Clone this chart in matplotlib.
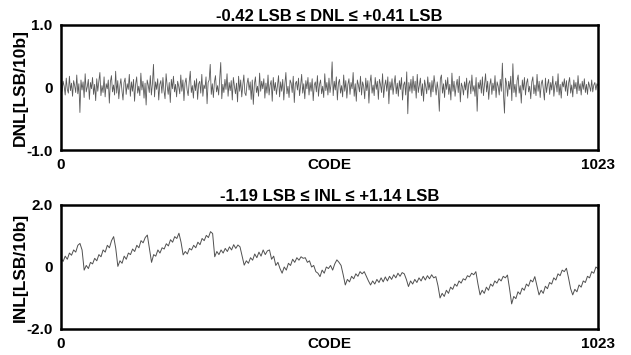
import numpy as np
import matplotlib
matplotlib.use("Agg")
import matplotlib.pyplot as plt

plt.rcParams['font.family'] = ['Liberation Sans', 'DejaVu Sans']
plt.rcParams['font.weight'] = 'bold'

# ---- data ----
dnl_title = "-0.42 LSB \u2264 DNL \u2264 +0.41 LSB"
inl_title = "-1.19 LSB \u2264 INL \u2264 +1.14 LSB"
dnl_ylabel = "DNL[LSB/10b]"
inl_ylabel = "INL[LSB/10b]"
x_label = "CODE"
code_range = [0, 1023]
dnl_yticks = [-1.0, 0.0, 1.0]
dnl_yticklabels = ["-1.0", "0", "1.0"]
inl_yticks = [-2.0, 0.0, 2.0]
inl_yticklabels = ["-2.0", "0", "2.0"]

dnl = [
    0.04, -0.06, 0.10, 0.02, -0.12, 0.15, -0.03, -0.09, 0.18, -0.05, 0.07, -0.14, 0.11, 0.03, -0.08, 0.20,
    -0.10, 0.06, -0.40, 0.12, -0.04, 0.09, -0.16, 0.22, -0.07, 0.01, 0.13, -0.19, 0.08, -0.02, 0.16, -0.11,
    0.05, -0.21, 0.14, -0.06, 0.10, 0.24, -0.13, 0.03, -0.08, 0.17, -0.15, 0.06, -0.02, 0.12, -0.25, 0.09,
    0.19, -0.07, 0.04, -0.12, 0.26, -0.09, 0.11, -0.18, 0.02, 0.14, -0.05, -0.20, 0.08, 0.15, -0.11, 0.06,
    -0.03, 0.21, -0.14, 0.09, -0.06, 0.13, -0.22, 0.05, 0.17, -0.09, 0.02, -0.13, 0.23, -0.04, 0.10, -0.17,
    0.07, -0.28, 0.12, 0.04, -0.08, 0.19, -0.12, 0.06, 0.37, -0.15, 0.09, -0.03, 0.14, -0.20, 0.05, 0.11,
    -0.09, 0.16, -0.05, -0.18, 0.22, 0.03, -0.11, 0.08, -0.24, 0.13, -0.02, 0.18, -0.07, 0.05, -0.15, 0.10,
    0.02, -0.10, 0.20, -0.06, 0.12, -0.21, 0.07, 0.15, -0.04, -0.13, 0.09, 0.26, -0.08, 0.03, -0.17, 0.11,
    -0.05, 0.14, -0.19, 0.06, 0.10, -0.09, 0.21, -0.14, 0.04, -0.02, 0.17, -0.26, 0.08, 0.12, 0.37, -0.11,
    0.06, -0.16, 0.09, 0.19, -0.07, 0.03, -0.12, 0.15, 0.40, -0.18, 0.05, -0.08, 0.13, -0.03, 0.22, -0.14,
    0.08, -0.05, 0.11, -0.20, 0.16, 0.02, -0.10, 0.07, -0.23, 0.18, -0.06, 0.12, -0.15, 0.04, 0.20, -0.09,
    -0.13, 0.06, 0.15, -0.04, 0.09, -0.19, 0.12, -0.27, 0.05, 0.17, -0.08, 0.02, -0.14, 0.23, -0.06, 0.10,
    -0.02, 0.14, -0.17, 0.07, -0.09, 0.20, -0.12, 0.04, 0.11, -0.22, 0.16, -0.05, 0.08, -0.11, 0.03, 0.19,
    -0.15, 0.09, -0.06, 0.13, -0.20, 0.05, 0.24, -0.10, 0.02, -0.16, 0.12, 0.07, -0.08, 0.18, -0.24, 0.06,
    0.10, -0.04, 0.15, -0.13, 0.03, 0.21, -0.09, 0.06, -0.18, 0.11, -0.02, 0.16, -0.12, 0.08, -0.06, 0.14,
    -0.21, 0.04, 0.09, -0.07, 0.19, -0.14, 0.05, 0.12, -0.10, 0.02, -0.16, 0.22, -0.05, 0.08, -0.12, 0.15,
    -0.08, 0.06, 0.41, -0.13, 0.10, -0.04, 0.17, -0.20, 0.07, 0.13, -0.09, 0.03, -0.15, 0.20, -0.06, 0.11,
    -0.17, 0.05, 0.14, -0.11, 0.08, -0.02, 0.24, -0.14, 0.06, -0.22, 0.12, 0.04, -0.07, 0.18, -0.12, 0.09,
    0.02, -0.18, 0.15, -0.05, 0.11, -0.25, 0.07, 0.20, -0.09, 0.04, -0.13, 0.16, -0.03, 0.10, -0.19, 0.13,
    0.05, -0.08, 0.22, -0.16, 0.03, 0.12, -0.06, 0.17, -0.26, 0.09, -0.04, 0.14, -0.11, 0.06, 0.19, -0.10,
    0.07, -0.14, 0.11, -0.03, 0.16, -0.20, 0.04, 0.09, -0.12, 0.25, -0.42, 0.08, -0.06, 0.13, -0.09, 0.18,
    -0.05, 0.10, -0.17, 0.21, -0.08, 0.03, 0.15, -0.13, 0.06, -0.22, 0.12, 0.02, -0.10, 0.17, -0.04, 0.08,
    -0.15, 0.11, -0.07, 0.19, 0.04, -0.12, 0.09, -0.05, -0.38, 0.14, 0.20, -0.09, 0.06, -0.16, 0.12, -0.03,
    0.16, -0.11, 0.05, -0.20, 0.23, -0.06, 0.10, -0.14, 0.03, 0.13, -0.08, 0.18, -0.23, 0.07, 0.01, -0.12,
    0.09, -0.04, 0.15, -0.17, 0.06, 0.11, -0.10, 0.20, -0.06, 0.03, -0.14, 0.16, -0.38, 0.08, -0.02, 0.12,
    -0.09, 0.17, -0.13, 0.05, 0.22, -0.07, 0.10, -0.19, 0.04, 0.14, -0.11, 0.07, -0.05, 0.19, -0.16, 0.09,
    0.02, -0.12, 0.13, -0.06, 0.39, -0.10, -0.41, 0.15, 0.06, -0.14, 0.10, -0.03, 0.18, -0.21, 0.38, -0.08,
    0.05, -0.15, 0.11, 0.20, -0.09, 0.03, -0.25, 0.12, -0.04, 0.16, -0.12, 0.07, 0.14, -0.07, 0.02, -0.18,
    0.09, 0.17, -0.10, 0.04, -0.13, 0.21, -0.06, 0.10, -0.16, 0.06, 0.12, -0.03, -0.20, 0.15, -0.08, 0.05,
    0.13, -0.11, 0.08, -0.04, 0.18, -0.14, 0.03, 0.10, -0.07, 0.22, -0.12, 0.05, -0.17, 0.09, 0.01, 0.14,
    -0.06, 0.11, -0.13, 0.07, 0.16, -0.09, 0.04, -0.15, 0.12, -0.02, 0.08, -0.10, 0.19, -0.05, 0.06, -0.12,
    0.10, -0.03, 0.14, -0.08, 0.05, -0.11, 0.09, 0.02, -0.06, 0.12, -0.07, 0.04, 0.08, -0.04, 0.06, 0.03,
]

inl = [
    0.28, 0.18, 0.35, 0.25, 0.45, 0.38, 0.55, 0.48, 0.70, 0.76, 0.55, -0.10, 0.05, -0.05, 0.15, 0.10,
    0.28, 0.20, 0.40, 0.33, 0.55, 0.48, 0.70, 0.62, 0.85, 0.98, 0.60, 0.02, 0.20, 0.12, 0.35, 0.25,
    0.45, 0.40, 0.58, 0.50, 0.70, 0.62, 0.85, 0.78, 0.95, 1.03, 0.60, 0.15, 0.40, 0.35, 0.55, 0.45,
    0.62, 0.58, 0.75, 0.68, 0.88, 0.80, 0.98, 0.92, 1.09, 0.80, 0.39, 0.50, 0.42, 0.60, 0.55, 0.70,
    0.62, 0.80, 0.72, 0.92, 0.85, 1.02, 0.95, 1.14, 1.08, 0.33, 0.50, 0.40, 0.55, 0.45, 0.60, 0.50,
    0.65, 0.55, 0.72, 0.60, 0.71, 0.65, 0.35, 0.06, 0.20, 0.12, 0.30, 0.22, 0.42, 0.30, 0.48, 0.35,
    0.55, 0.40, 0.52, 0.55, 0.25, 0.35, 0.05, 0.15, -0.05, -0.20, 0.00, -0.10, 0.12, 0.05, 0.25, 0.15,
    0.30, 0.22, 0.33, 0.28, 0.30, 0.15, 0.20, 0.00, 0.05, -0.15, -0.20, -0.31, -0.10, -0.20, 0.00, -0.05,
    0.05, -0.10, 0.10, 0.23, 0.15, 0.05, -0.25, -0.58, -0.40, -0.48, -0.30, -0.38, -0.22, -0.30, -0.15, -0.22,
    -0.15, -0.30, -0.45, -0.58, -0.45, -0.55, -0.40, -0.50, -0.35, -0.48, -0.32, -0.45, -0.30, -0.40, -0.25, -0.35,
    -0.20, -0.30, -0.18, -0.22, -0.40, -0.63, -0.45, -0.55, -0.40, -0.50, -0.35, -0.45, -0.30, -0.42, -0.28, -0.38,
    -0.25, -0.35, -0.31, -0.60, -1.00, -0.85, -0.95, -0.75, -0.85, -0.65, -0.72, -0.55, -0.62, -0.45, -0.52, -0.38,
    -0.42, -0.28, -0.32, -0.20, -0.25, -0.15, -0.55, -0.90, -0.75, -0.85, -0.65, -0.75, -0.55, -0.62, -0.45, -0.52,
    -0.38, -0.45, -0.30, -0.35, -0.26, -0.70, -1.19, -0.95, -1.02, -0.80, -0.88, -0.68, -0.75, -0.55, -0.62, -0.42,
    -0.48, -0.31, -0.60, -0.90, -0.75, -0.85, -0.62, -0.70, -0.50, -0.55, -0.35, -0.42, -0.22, -0.28, -0.10, -0.15,
    -0.04, -0.35, -0.70, -0.90, -0.72, -0.80, -0.58, -0.65, -0.45, -0.50, -0.30, -0.35, -0.15, -0.20, 0.00, -0.05,
]

dnl_codes = np.linspace(code_range[0], code_range[1], len(dnl))
inl_codes = np.linspace(code_range[0], code_range[1], len(inl))

W, H = 631, 355
fig = plt.figure(figsize=(W / 100, H / 100), dpi=100)

def make_axes(top_px, bottom_px):
    left, right = 61, 598
    return fig.add_axes([left / W, 1 - bottom_px / H, (right - left) / W, (bottom_px - top_px) / H])

ax1 = make_axes(25, 150)
ax2 = make_axes(205, 329)

ax1.plot(dnl_codes, dnl, color="#5a5a5a", lw=0.6)
ax2.plot(inl_codes, inl, color="#505050", lw=0.7)

tick_fs = 11
title_fs = 12
ylabel_fs = 12.5
for ax, title, ylabel, yt, ytl in [
    (ax1, dnl_title, dnl_ylabel, dnl_yticks, dnl_yticklabels),
    (ax2, inl_title, inl_ylabel, inl_yticks, inl_yticklabels),
]:
    ax.set_xlim(code_range[0], code_range[1])
    ax.set_ylim(yt[0], yt[-1])
    ax.set_yticks(yt)
    ax.set_yticklabels(ytl, fontsize=tick_fs, fontweight='bold')
    ax.set_xticks([code_range[0], (code_range[0] + code_range[1]) / 2, code_range[1]])
    ax.set_xticklabels([str(code_range[0]), x_label, str(code_range[1])], fontsize=tick_fs, fontweight='bold')
    ax.tick_params(length=0)
    ax.tick_params(axis='x', pad=6)
    ax.tick_params(axis='y', pad=6)
    for s in ax.spines.values():
        s.set_linewidth(1.8)
        s.set_color('black')
    ax.set_title(title, fontsize=title_fs, fontweight='bold', pad=3)
    ax.set_ylabel(ylabel, fontsize=ylabel_fs, fontweight='bold', labelpad=-1)

fig.savefig("out.png", dpi=100)
